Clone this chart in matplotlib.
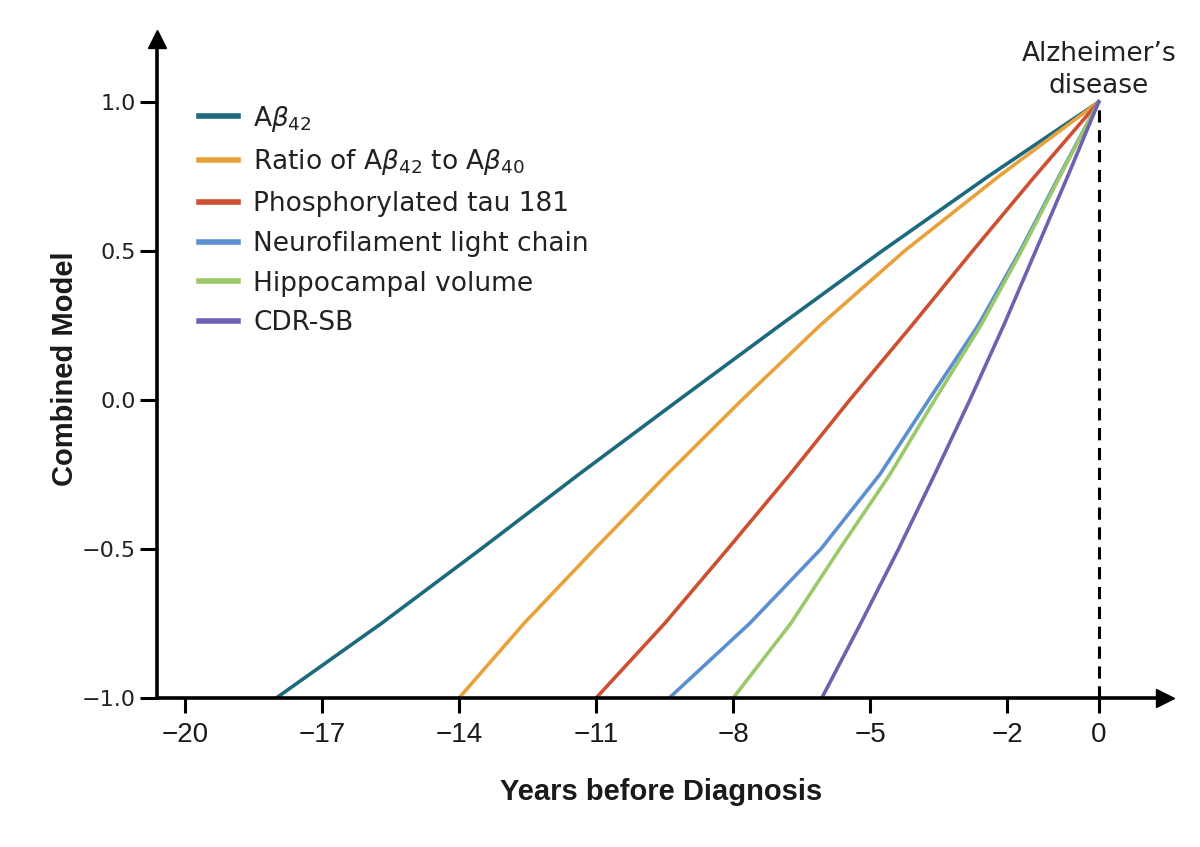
import numpy as np
import matplotlib
matplotlib.use("Agg")
import matplotlib.pyplot as plt

y_levels = [-1.0, -0.75, -0.5, -0.25, 0.0, 0.25, 0.5, 0.75, 1.0]

# years before diagnosis at each y level
x_ab42 = [-18.0, -15.70, -13.52, -11.38, -9.19, -6.98, -4.74, -2.42, 0.0]
x_ratio = [-14.0, -12.58, -11.03, -9.45, -7.81, -6.10, -4.25, -2.19, 0.0]
x_ptau = [-11.0, -9.50, -8.12, -6.76, -5.45, -4.09, -2.76, -1.40, 0.0]
x_nfl = [-9.4, -7.64, -6.08, -4.79, -3.72, -2.64, -1.72, -0.87, 0.0]
x_hippo = [-8.0, -6.74, -5.67, -4.57, -3.59, -2.58, -1.69, -0.85, 0.0]
x_cdr = [-6.06, -5.21, -4.38, -3.59, -2.82, -2.08, -1.38, -0.68, 0.0]

labels = [
    "A$\\beta_{42}$",
    "Ratio of A$\\beta_{42}$ to A$\\beta_{40}$",
    "Phosphorylated tau 181",
    "Neurofilament light chain",
    "Hippocampal volume",
    "CDR-SB",
]
colors = ["#1d6a7e", "#e9a23b", "#cd5033", "#5b8fd2", "#9bc96a", "#7060b2"]
series = [x_ab42, x_ratio, x_ptau, x_nfl, x_hippo, x_cdr]

xticks = [-20, -17, -14, -11, -8, -5, -2, 0]
yticks = [-1.0, -0.5, 0.0, 0.5, 1.0]

plt.rcParams["mathtext.fontset"] = "dejavusans"

fig = plt.figure(figsize=(12, 8.47), dpi=100)
ax = fig.add_axes([0.1308, 0.1759, 0.84, 0.778])

for xs, lab, c in zip(series, labels, colors):
    ax.plot(xs, y_levels, color=c, lw=2.6, label=lab, solid_joinstyle="round")

# dashed line at diagnosis
ax.plot([0, 0], [-1, 1], color="black", lw=2.2, ls=(0, (4, 2.5)), zorder=1)

ax.set_xlim(-20.61, 1.45)
ax.set_ylim(-1.0, 1.211)

for s in ["top", "right"]:
    ax.spines[s].set_visible(False)
for s in ["left", "bottom"]:
    ax.spines[s].set_linewidth(2.6)
ax.plot(1, 0, ">", color="black", ms=13, transform=ax.transAxes, clip_on=False)
ax.plot(0, 1, "^", color="black", ms=13, transform=ax.transAxes, clip_on=False)

ax.set_xticks(xticks)
ax.set_xticklabels(["\u2212" + str(-t) if t < 0 else str(t) for t in xticks],
                   family="Liberation Sans", fontsize=20, color="#1a1a1a")
ax.set_yticks(yticks)
ax.set_yticklabels([f"{t:.1f}".replace("-", "\u2212") for t in yticks],
                   family="DejaVu Sans", fontsize=16, color="#222222")
ax.tick_params(axis="x", direction="out", length=11, width=2.2, pad=6)
ax.tick_params(axis="y", direction="out", length=12, width=2.2, pad=3)

ax.set_xlabel("Years before Diagnosis", family="Liberation Sans",
              fontweight="bold", fontsize=21, labelpad=22, color="#1a1a1a")
ax.set_ylabel("Combined Model", family="Liberation Sans",
              fontweight="bold", fontsize=21, labelpad=2, color="#1a1a1a")

ax.annotate("Alzheimer\u2019s\ndisease", xy=(0, 1.0), xytext=(0, 2),
            textcoords="offset points", ha="center", va="bottom",
            fontsize=19, color="#222222", linespacing=1.3)

ax.legend(loc="upper left", bbox_to_anchor=(0.042, 0.902), frameon=False,
          fontsize=19, handlelength=1.45, handletextpad=0.6, labelspacing=0.52,
          borderaxespad=0, borderpad=0, labelcolor="#222222")
for h in ax.get_legend().get_lines():
    h.set_linewidth(4)

fig.savefig("out.png", dpi=100)
